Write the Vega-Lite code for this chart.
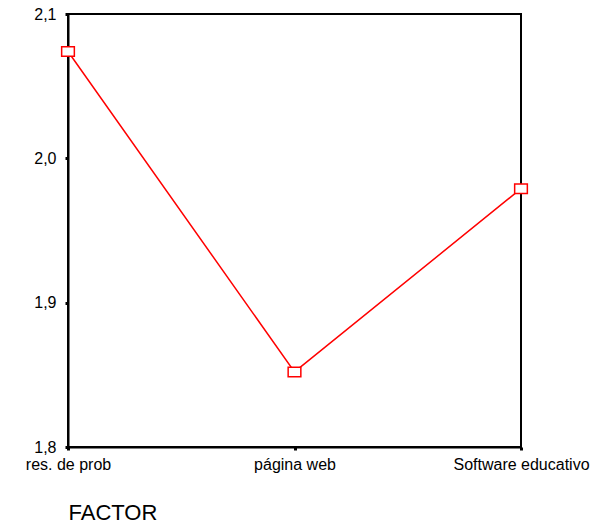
{
  "$schema": "https://vega.github.io/schema/vega-lite/v6.json",
  "autosize": "none",
  "width": 453,
  "height": 433,
  "padding": {"left": 68, "top": 14, "right": 89, "bottom": 76},
  "background": "white",
  "config": {
    "view": {"stroke": "black", "strokeWidth": 2},
    "font": "Liberation Sans"
  },
  "data": {
    "values": [
      {"FACTOR": "res. de prob", "media": 2.074},
      {"FACTOR": "página web", "media": 1.852},
      {"FACTOR": "Software educativo", "media": 1.979}
    ]
  },
  "encoding": {
    "x": {
      "field": "FACTOR",
      "type": "nominal",
      "sort": null,
      "scale": {"type": "point", "padding": 0},
      "axis": {
        "title": "FACTOR",
        "titleFont": "Liberation Sans",
        "titleFontSize": 22,
        "titleFontWeight": "normal",
        "titleColor": "black",
        "titleAlign": "left",
        "titleAnchor": "start",
        "titleX": 0,
        "titleY": 72,
        "titleBaseline": "alphabetic",
        "labelAngle": 0,
        "labelFont": "Liberation Sans",
        "labelFontSize": 16,
        "labelColor": "black",
        "labelPadding": 6,
        "tickSize": 3,
        "tickWidth": 3,
        "tickColor": "black",
        "domainColor": "black",
        "domainWidth": 2,
        "grid": false
      }
    },
    "y": {
      "field": "media",
      "type": "quantitative",
      "scale": {"domain": [1.8, 2.1], "zero": false, "nice": false},
      "axis": {
        "title": null,
        "values": [1.8, 1.9, 2.0, 2.1],
        "labelExpr": "replace(format(datum.value, '.1f'), '.', ',')",
        "labelFont": "Liberation Sans",
        "labelFontSize": 16,
        "labelColor": "black",
        "labelPadding": 9,
        "tickSize": 3,
        "tickWidth": 3,
        "tickColor": "black",
        "domainColor": "black",
        "domainWidth": 2,
        "grid": false
      }
    }
  },
  "layer": [
    {
      "mark": {"type": "line", "color": "#ff0000", "strokeWidth": 1.5}
    },
    {
      "mark": {
        "type": "point",
        "shape": "M-1,-0.75H1V0.75H-1Z",
        "size": 161,
        "filled": true,
        "fill": "white",
        "stroke": "#ff0000",
        "strokeWidth": 1.5,
        "opacity": 1
      }
    }
  ]
}
